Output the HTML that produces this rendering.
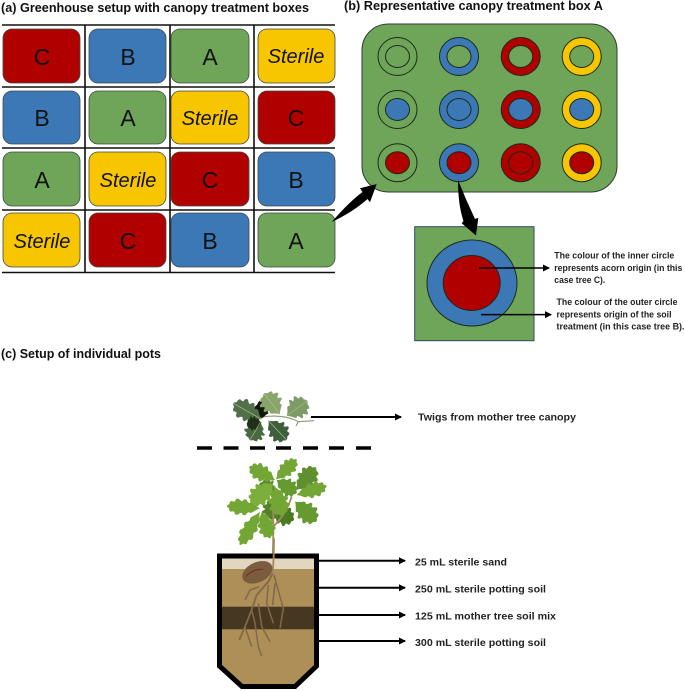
<!DOCTYPE html>
<html><head><meta charset="utf-8"><style>
html,body{margin:0;padding:0;background:#fff;width:685px;height:691px;overflow:hidden}
svg{display:block;filter:blur(.35px)}
text{font-family:"Liberation Sans",sans-serif;fill:#111}
.t{font-weight:bold;font-size:12.5px}
.s{font-weight:bold;font-size:9.2px;fill:#222}
.l{font-weight:bold;font-size:10px;fill:#222}
.b{font-size:23px;text-anchor:middle}
.i{font-size:20px;font-style:italic;text-anchor:middle}
.gr{fill:#6fa558}.bl{fill:#3c78b6}.re{fill:#b00000}.ye{fill:#f7c600}
.box rect{stroke:#3c4a44;stroke-width:.8}
.c{stroke:#1c2a1c;stroke-width:1}
.n{fill:none}
</style></head><body>
<svg width="685" height="691" viewBox="0 0 685 691" xmlns="http://www.w3.org/2000/svg">
<defs>
<path id="leaf" d="M0,0 Q10,-4 20,-14 Q27,-20 32,-15 Q38,-17 42,-26 Q50,-29 54,-19 Q60,-20 66,-27 Q76,-28 76,-17 Q82,-16 88,-18 Q94,-13 92,-7 Q98,-5 100,0 Q98,5 92,7 Q94,13 88,18 Q82,16 76,17 Q76,28 66,27 Q60,20 54,19 Q50,29 42,26 Q38,17 32,15 Q27,20 20,14 Q10,4 0,0Z"/>
<marker id="ah" markerWidth="8" markerHeight="8" refX="6" refY="3.5" orient="auto" markerUnits="userSpaceOnUse"><path d="M0,0 L7,3.5 L0,7Z" fill="#000"/></marker>
</defs>

<text class="t" x="1" y="12" textLength="308" lengthAdjust="spacingAndGlyphs">(a) Greenhouse setup with canopy treatment boxes</text>
<text class="t" x="344" y="10" textLength="259" lengthAdjust="spacingAndGlyphs">(b) Representative canopy treatment box A</text>
<text class="t" x="1" y="358" textLength="160" lengthAdjust="spacingAndGlyphs">(c) Setup of individual pots</text>

<!-- grid -->
<g stroke="#111" stroke-width="1.6">
<path d="M2 25H335M2 87H335M2 148H335M2 210H335M2 272.5H335M85 25V272.5M170 25V272.5M254 25V272.5"/>
</g>
<g class="box">
<rect class="re" x="3" y="29" width="77" height="54" rx="9"/>
<rect class="bl" x="89" y="29" width="77" height="54" rx="9"/>
<rect class="gr" x="171" y="29" width="78" height="54" rx="9"/>
<rect class="ye" x="258" y="29" width="77" height="54" rx="9"/>
<rect class="bl" x="3" y="91" width="77" height="53" rx="9"/>
<rect class="gr" x="89" y="91" width="77" height="53" rx="9"/>
<rect class="ye" x="171" y="91" width="78" height="53" rx="9"/>
<rect class="re" x="258" y="91" width="77" height="53" rx="9"/>
<rect class="gr" x="3" y="152" width="77" height="54" rx="9"/>
<rect class="ye" x="89" y="152" width="77" height="54" rx="9"/>
<rect class="re" x="171" y="152" width="78" height="54" rx="9"/>
<rect class="bl" x="258" y="152" width="77" height="54" rx="9"/>
<rect class="ye" x="3" y="213" width="77" height="54" rx="9"/>
<rect class="re" x="89" y="213" width="77" height="54" rx="9"/>
<rect class="bl" x="171" y="213" width="78" height="54" rx="9"/>
<rect class="gr" x="258" y="213" width="77" height="54" rx="9"/>
</g>
<g>
<text class="b" x="42" y="65">C</text><text class="b" x="128" y="65">B</text><text class="b" x="210" y="65">A</text><text class="i" x="296" y="63">Sterile</text>
<text class="b" x="42" y="126">B</text><text class="b" x="128" y="126">A</text><text class="i" x="210" y="125">Sterile</text><text class="b" x="296" y="126">C</text>
<text class="b" x="42" y="188">A</text><text class="i" x="128" y="187">Sterile</text><text class="b" x="210" y="188">C</text><text class="b" x="296" y="188">B</text>
<text class="i" x="42" y="248">Sterile</text><text class="b" x="128" y="249">C</text><text class="b" x="210" y="249">B</text><text class="b" x="296" y="249">A</text>
</g>

<!-- panel b -->
<rect class="gr" x="362" y="24" width="255" height="168" rx="26" stroke="#2f3d33" stroke-width="1"/>
<g class="c">
<ellipse class="n" cx="397.5" cy="56.5" rx="19.5" ry="19"/><ellipse class="n" cx="397.5" cy="56.5" rx="12" ry="11"/>
<ellipse class="bl" cx="459" cy="56.5" rx="19.5" ry="19"/><ellipse class="gr" cx="459" cy="56.5" rx="12" ry="11"/>
<ellipse class="re" cx="520.7" cy="56.5" rx="19.5" ry="19"/><ellipse class="gr" cx="520.7" cy="56.5" rx="12" ry="11"/>
<ellipse class="ye" cx="581.7" cy="56.5" rx="19.5" ry="19"/><ellipse class="gr" cx="581.7" cy="56.5" rx="12" ry="11"/>

<ellipse class="n" cx="397.5" cy="109.5" rx="19.5" ry="19"/><ellipse class="bl" cx="397.5" cy="109.5" rx="12" ry="11"/>
<ellipse class="bl" cx="459" cy="109.5" rx="19.5" ry="19"/><ellipse class="bl" cx="459" cy="109.5" rx="12" ry="11"/>
<ellipse class="re" cx="520.7" cy="109.5" rx="19.5" ry="19"/><ellipse class="bl" cx="520.7" cy="109.5" rx="12" ry="11"/>
<ellipse class="ye" cx="581.7" cy="109.5" rx="19.5" ry="19"/><ellipse class="bl" cx="581.7" cy="109.5" rx="12" ry="11"/>

<ellipse class="n" cx="397.5" cy="162.7" rx="19.5" ry="19"/><ellipse class="re" cx="397.5" cy="162.7" rx="12" ry="11"/>
<ellipse class="bl" cx="459" cy="162.7" rx="19.5" ry="19"/><ellipse class="re" cx="459" cy="162.7" rx="12" ry="11"/>
<ellipse class="re" cx="520.7" cy="162.7" rx="19.5" ry="19"/><ellipse class="re" cx="520.7" cy="162.7" rx="12" ry="11"/>
<ellipse class="ye" cx="581.7" cy="162.7" rx="19.5" ry="19"/><ellipse class="re" cx="581.7" cy="162.7" rx="12" ry="11"/>
</g>

<!-- detail box -->
<rect class="gr" x="414.7" y="226.7" width="119.3" height="114" stroke="#2f4a60" stroke-width="1"/>
<ellipse class="bl c" cx="472" cy="283" rx="45" ry="43"/>
<ellipse class="re c" cx="471.7" cy="283" rx="28.5" ry="27.5"/>

<!-- thick arrows -->
<path d="M331.7,222 Q349,202 362.5,192 L360,188.3 L376.7,184 L370,202.3 L367.5,199 Q353,212 331.7,222Z" fill="#000"/>
<path d="M458,180 Q458,205 463.5,221 L461.7,223.3 L476,235.5 L478.3,217.7 L475,219 Q466,200 458,180Z" fill="#000"/>

<g stroke="#000" stroke-width="1.5" fill="none">
<path d="M479 268H549" marker-end="url(#ah)"/>
<path d="M481 314.6H551" marker-end="url(#ah)"/>
</g>
<text class="s" x="554.3" y="258.7" textLength="120" lengthAdjust="spacingAndGlyphs">The colour of the inner circle</text>
<text class="s" x="554.3" y="271" textLength="128" lengthAdjust="spacingAndGlyphs">represents acorn origin (in this</text>
<text class="s" x="554.3" y="283" textLength="51" lengthAdjust="spacingAndGlyphs">case tree C).</text>
<text class="s" x="556.5" y="305" textLength="121" lengthAdjust="spacingAndGlyphs">The colour of the outer circle</text>
<text class="s" x="556.5" y="317.7" textLength="115" lengthAdjust="spacingAndGlyphs">represents origin of the soil</text>
<text class="s" x="556.5" y="329.3" textLength="128" lengthAdjust="spacingAndGlyphs">treatment (in this case tree B).</text>

<!-- panel c arrows -->
<g stroke="#000" stroke-width="2" fill="none">
<path d="M311 417H401" marker-end="url(#ah)"/>
<path d="M319 560.7H405" marker-end="url(#ah)"/>
<path d="M319 587.7H405" marker-end="url(#ah)"/>
<path d="M319 615H405" marker-end="url(#ah)"/>
<path d="M319 641H405" marker-end="url(#ah)"/>
</g>
<text class="l" x="418" y="420.5" textLength="158" lengthAdjust="spacingAndGlyphs">Twigs from mother tree canopy</text>
<text class="l" x="415" y="565.5" textLength="92" lengthAdjust="spacingAndGlyphs">25 mL sterile sand</text>
<text class="l" x="415" y="592.5" textLength="131" lengthAdjust="spacingAndGlyphs">250 mL sterile potting soil</text>
<text class="l" x="415" y="619.5" textLength="141" lengthAdjust="spacingAndGlyphs">125 mL mother tree soil mix</text>
<text class="l" x="415" y="646" textLength="131" lengthAdjust="spacingAndGlyphs">300 mL sterile potting soil</text>

<!-- dashed -->
<path d="M197 448H212M223.5 448H238.5M250 448H265M276 448H291M303 448H318M329 448H344M356 448H371" stroke="#000" stroke-width="3.4"/>

<!-- twigs (zoomed coords) -->
<g transform="translate(190 380) scale(.3333)">
<path d="M205,112 Q280,100 325,125 L372,122 M325,125 L318,138" stroke="#8c9a78" stroke-width="3.5" fill="none"/>
<use href="#leaf" transform="translate(235,100) rotate(205) scale(.45,1.3)" fill="#10180c"/>
<use href="#leaf" transform="translate(215,118) rotate(209.5) scale(.98,1.15)" fill="#51704a"/>
<use href="#leaf" transform="translate(212,125) rotate(120) scale(.64,1.15)" fill="#486a42"/>
<use href="#leaf" transform="translate(235,122) rotate(46.5) scale(.8,1.15)" fill="#3f5f3c"/>
<use href="#leaf" transform="translate(215,128) rotate(175) scale(.45,.8)" fill="#1f3019"/>
<use href="#leaf" transform="translate(270,103) rotate(232.7) scale(.79,1.25)" fill="#8aa56b"/>
<use href="#leaf" transform="translate(290,108) rotate(-36.6) scale(.77,1.25)" fill="#7d9c65"/>
<path d="M215,118 L130,70 M270,103 L222,40 M290,108 L352,62 M212,125 L180,180 M235,122 L290,180" stroke="#a9bd90" stroke-width="2" fill="none"/>
</g>

<!-- seedling -->
<g transform="translate(190 380) scale(.3333)">
<use href="#leaf" transform="translate(240,390) rotate(22.6) scale(.78,1.1)" fill="#4c7a22"/>
<use href="#leaf" transform="translate(255,340) rotate(213) scale(.55,1.1)" fill="#5c8a2a"/>
<use href="#leaf" transform="translate(250,350) rotate(95) scale(.7,1.1)" fill="#557f28"/>
<path d="M248,540 Q250,480 250,440 Q290,400 305,350 M250,440 L250,390" stroke="#a08a60" stroke-width="5.5" fill="none"/>
<g fill="#74a636">
<use href="#leaf" transform="translate(255,300) rotate(207.4) scale(.87,.95)"/>
<use href="#leaf" transform="translate(258,298) rotate(-44) scale(.86,.85)"/>
<use href="#leaf" transform="translate(320,330) rotate(-49.5) scale(.89,1.1)" fill="#5f9030"/>
<use href="#leaf" transform="translate(320,345) rotate(-16.7) scale(.94,.85)"/>
<use href="#leaf" transform="translate(260,300) rotate(33.7) scale(.72,1)" fill="#659a30"/>
<use href="#leaf" transform="translate(250,310) rotate(138.6) scale(.91,1.2)" fill="#7cae3c"/>
<use href="#leaf" transform="translate(255,320) rotate(77) scale(.9,1.15)"/>
<use href="#leaf" transform="translate(315,365) rotate(42.7) scale(.88,1.15)" fill="#659a30"/>
<use href="#leaf" transform="translate(210,385) rotate(184) scale(1,.9)"/>
<use href="#leaf" transform="translate(210,395) rotate(121) scale(1.17,.85)"/>
<use href="#leaf" transform="translate(215,395) rotate(72.6) scale(.84,.95)"/>
</g>
</g>

<!-- pot -->
<path d="M222,557 H315 V665 L294,684 H243 L222,665Z" fill="#af8f58"/>
<rect x="222" y="557" width="93" height="12" fill="#e3d6c0"/>
<rect x="222" y="606.7" width="93" height="22.6" fill="#453720"/>
<path d="M219.5,556 H316.5 V666 L295,686.5 H242 L219.5,666Z" fill="none" stroke="#000" stroke-width="5"/>

<g transform="translate(200 540) scale(.3333)">
<path d="M222,-5 Q222,50 218,100" stroke="#a08a60" stroke-width="5.5" fill="none"/>
<ellipse cx="172" cy="97" rx="48" ry="30" transform="rotate(-25 172 97)" fill="#7a5c3e"/>
<path d="M137,110 Q160,85 190,88" stroke="#7d2a18" stroke-width="3" fill="none"/>
<g stroke="#80694a" stroke-width="4.5" fill="none">
<path d="M218,100 L205,125 L170,165 L155,210 L135,260 L118,300" stroke-width="5.5"/>
<path d="M155,210 L165,250 L175,320 L185,348"/>
<path d="M178,140 L150,150 L135,180"/>
<path d="M205,135 L200,190 L220,250"/>
<path d="M222,105 L240,170 L250,205 L240,265"/>
<path d="M225,130 L218,195"/>
<path d="M175,190 L185,260 L210,305"/>
<path d="M135,260 L155,320"/>
</g>
</g>
</svg>
</body></html>
